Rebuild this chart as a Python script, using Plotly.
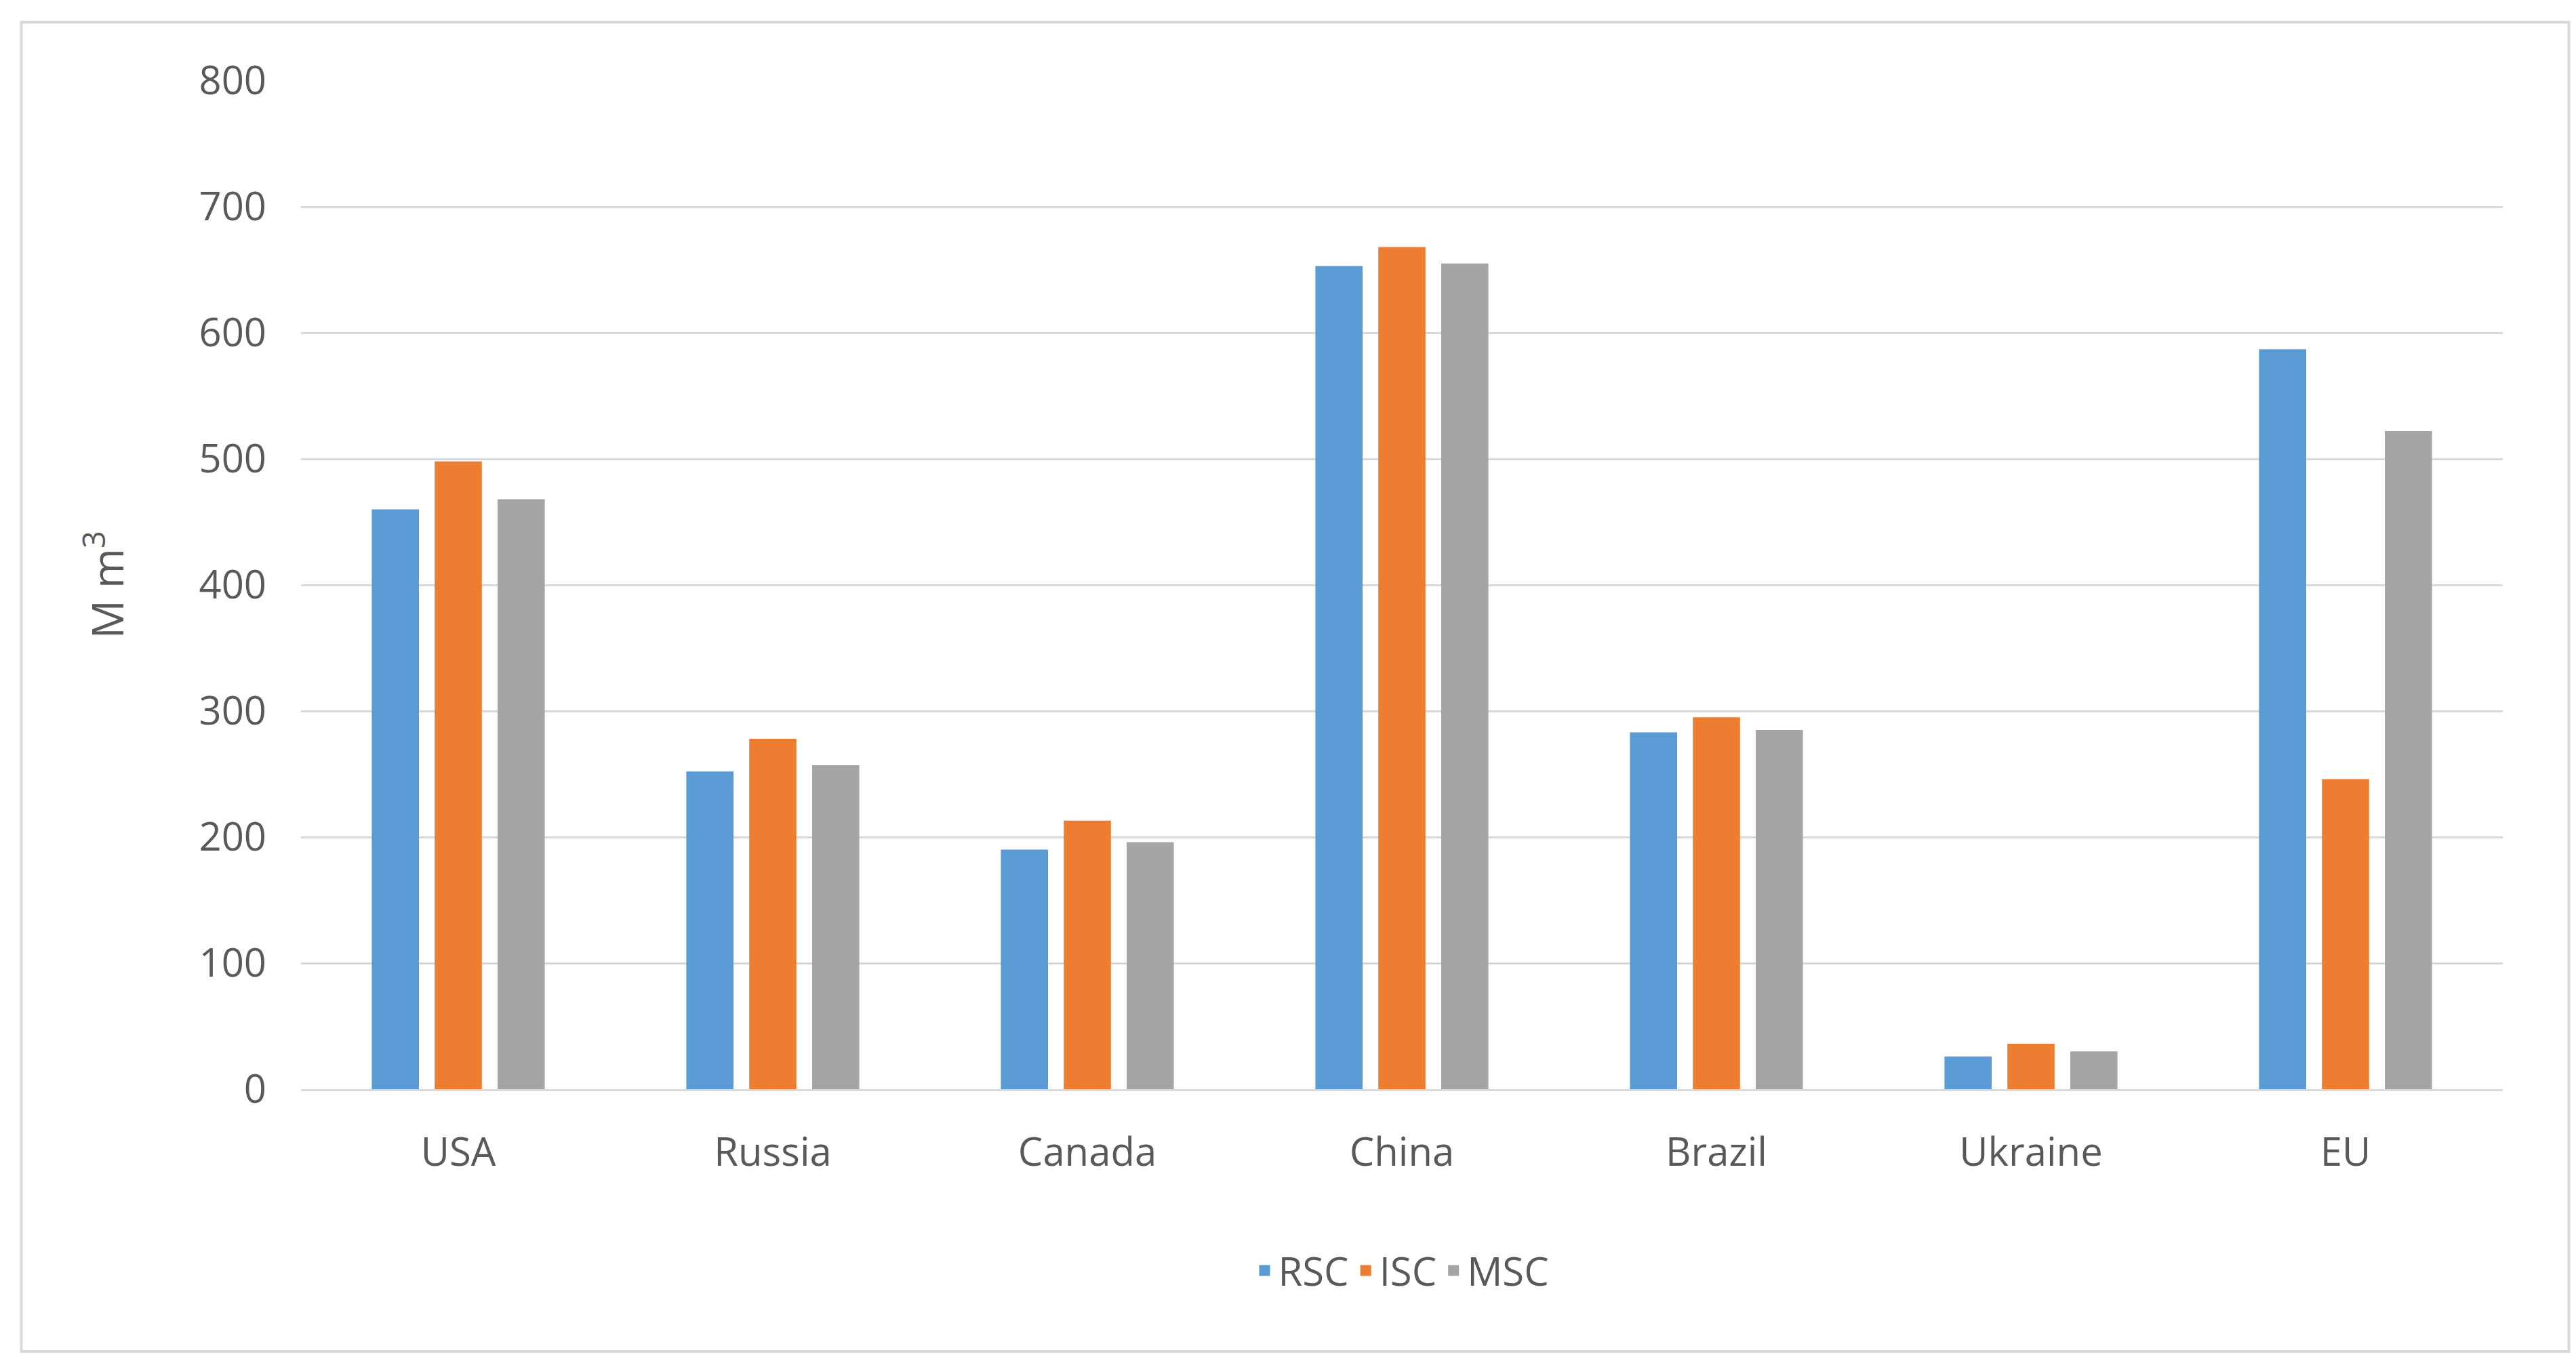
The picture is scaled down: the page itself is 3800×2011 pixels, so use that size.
import plotly.graph_objects as go

categories = ["USA", "Russia", "Canada", "China", "Brazil", "Ukraine", "EU"]
rsc = [460, 252, 190, 653, 283, 26, 587]
isc = [498, 278, 213, 668, 295, 36, 246]
msc = [468, 257, 196, 655, 285, 30, 522]
tick_vals = [0, 100, 200, 300, 400, 500, 600, 700, 800]

fig = go.Figure()
series = [("RSC", rsc, "#5B9BD5"), ("ISC", isc, "#ED7D31"), ("MSC", msc, "#A5A5A5")]
for name, vals, col in series:
    fig.add_trace(go.Bar(name=name, x=categories, y=vals, marker_color=col,
                         marker_line_width=0, showlegend=False))
for name, vals, col in series:
    fig.add_trace(go.Scatter(name=name, x=[None], y=[None], mode="markers",
                             marker=dict(symbol="square", size=40, color=col)))

fig.update_layout(
    width=3800, height=2011, paper_bgcolor="white", plot_bgcolor="white",
    barmode="group", bargap=0.4, bargroupgap=0.25,
    font=dict(family="Open Sans", size=58, color="#595959"),
    margin=dict(l=436, r=116, t=111, b=412),
    xaxis=dict(showline=True, linecolor="#D9D9D9", linewidth=3, ticks="", ticklabelstandoff=40),
    yaxis=dict(range=[0, 800], tickvals=tick_vals, showgrid=True, gridcolor="#D9D9D9", gridwidth=3,
               zeroline=False, ticks="", ticklabelstandoff=50,
               title=dict(text="M m<sup>3</sup>", font=dict(size=64), standoff=90)),
    legend=dict(orientation="h", x=0.5, xanchor="center", y=-0.18, yanchor="middle",
                font=dict(size=58), itemwidth=30, tracegroupgap=10),
    shapes=[dict(type="rect", xref="paper", yref="paper", x0=-0.127, x1=1.03, y0=-0.26, y1=1.058,
                 line=dict(color="#D9D9D9", width=4))],
)
fig.write_html("out.html")
